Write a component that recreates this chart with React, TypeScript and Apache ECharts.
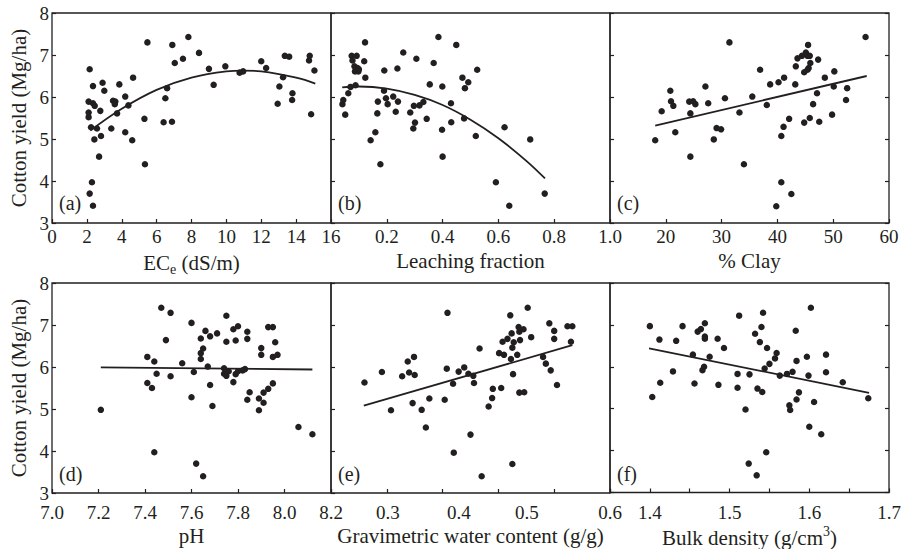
import React, { useEffect, useRef } from "react";
import * as echarts from "echarts";

const INK = "#231f20";
const FONT = "Liberation Serif";

// ---------- data ----------
const ecePoints = [
  [2.16, 6.66], [2.1, 5.89], [2.1, 5.63], [2.1, 5.52], [2.35, 6.26], [2.35, 5.85], [2.45, 5.79],
  [2.24, 5.28], [2.58, 5.25], [2.43, 4.99], [2.7, 4.58], [2.29, 3.97], [2.16, 3.7], [2.35, 3.41],
  [2.77, 5.67], [2.81, 5.07], [2.9, 6.34], [3.0, 6.15], [3.4, 5.25], [3.5, 5.91], [3.63, 5.89],
  [3.6, 5.83], [3.73, 5.61], [3.86, 6.3], [4.2, 6.01], [4.2, 5.16], [4.38, 5.8], [4.65, 6.46],
  [4.6, 4.97], [5.3, 5.48], [5.33, 4.4], [5.47, 7.3], [6.4, 5.4], [6.5, 5.97], [6.6, 6.21],
  [6.88, 5.41], [6.9, 7.24], [7.04, 6.81], [7.51, 6.91], [7.82, 7.43], [8.43, 7.05], [9.0, 6.67],
  [9.27, 6.29], [9.94, 6.73], [10.76, 6.58], [10.96, 6.61], [12.0, 6.85], [12.28, 6.69],
  [12.94, 5.84], [13.04, 6.25], [13.25, 6.47], [13.35, 6.98], [13.6, 6.96], [13.79, 6.09],
  [13.77, 5.93], [14.74, 6.87], [14.78, 6.98], [14.86, 5.59], [15.05, 6.63],
];
const eceFit = [[2.2, 5.2], [4, 5.72], [6, 6.17], [8, 6.46], [10, 6.61], [11, 6.63], [12, 6.61], [14, 6.46], [15.1, 6.32]];

const leachPoints = [
  [0.041, 5.83], [0.044, 5.93], [0.051, 5.58], [0.062, 6.09], [0.07, 6.24], [0.074, 6.98],
  [0.077, 6.87], [0.084, 6.73], [0.086, 6.61], [0.088, 6.28], [0.092, 6.98], [0.095, 6.69],
  [0.098, 6.61], [0.1, 6.66], [0.122, 7.3], [0.119, 6.85], [0.123, 6.46], [0.142, 4.97],
  [0.159, 5.16], [0.168, 5.89], [0.166, 5.61], [0.177, 4.4], [0.19, 6.15], [0.191, 6.63],
  [0.197, 5.97], [0.203, 5.83], [0.223, 6.01], [0.232, 5.65], [0.238, 6.68], [0.24, 5.89],
  [0.259, 7.06], [0.284, 5.63], [0.295, 5.25], [0.297, 5.79], [0.301, 5.39], [0.306, 6.91],
  [0.317, 5.8], [0.331, 5.88], [0.343, 5.48], [0.354, 6.3], [0.368, 6.81], [0.385, 7.43],
  [0.398, 5.22], [0.399, 6.25], [0.4, 4.58], [0.43, 5.85], [0.431, 5.4], [0.449, 7.24],
  [0.471, 6.46], [0.477, 5.49], [0.48, 6.21], [0.492, 6.35], [0.519, 5.07], [0.524, 6.65],
  [0.591, 3.97], [0.622, 5.28], [0.639, 3.41], [0.714, 4.99], [0.766, 3.7],
];
const leachFit = [[0.04, 6.23], [0.1, 6.25], [0.2, 6.2], [0.3, 6.05], [0.4, 5.81], [0.5, 5.46], [0.6, 5.02], [0.7, 4.48], [0.767, 4.06]];

const clayPoints = [
  [18.1, 4.97], [19.26, 5.66], [20.81, 6.15], [20.93, 5.9], [21.35, 5.79], [21.7, 5.16], [24.2, 5.89],
  [24.4, 5.61], [24.4, 4.58], [24.9, 5.9], [25.3, 5.83], [27.1, 6.25], [27.6, 5.85], [28.6, 4.99],
  [29.1, 5.26], [29.9, 5.23], [30.6, 5.97], [31.4, 7.3], [33.2, 5.63], [34.0, 4.4], [35.5, 6.01],
  [36.9, 6.65], [38.1, 5.81], [38.7, 6.3], [39.8, 3.4], [40.2, 6.35], [40.7, 5.07], [40.7, 3.97],
  [41.1, 5.29], [41.2, 6.46], [42.1, 5.48], [42.5, 3.69], [43.2, 6.3], [43.3, 6.73], [43.6, 6.92],
  [44.4, 6.98], [44.8, 5.39], [44.8, 6.59], [45.1, 7.06], [45.4, 6.98], [45.4, 6.65], [45.5, 7.24],
  [45.6, 6.69], [45.8, 6.98], [45.8, 5.5], [45.9, 6.81], [46.4, 5.83], [47.1, 6.09], [47.3, 6.89],
  [47.5, 5.41], [48.5, 6.46], [49.8, 5.58], [50.1, 6.25], [50.2, 6.61], [52.3, 5.93], [52.5, 6.21],
  [55.8, 7.43],
];
const clayFit = [[18.1, 5.32], [56.0, 6.5]];

const phPoints = [
  [7.21, 4.98], [7.41, 6.24], [7.41, 5.62], [7.43, 5.5], [7.44, 6.13], [7.44, 3.97], [7.45, 5.84],
  [7.47, 7.41], [7.49, 6.64], [7.51, 7.29], [7.51, 5.78], [7.56, 6.09], [7.6, 7.05], [7.6, 5.28],
  [7.61, 5.88], [7.62, 3.7], [7.65, 3.4], [7.64, 6.68], [7.64, 6.19], [7.64, 6.33], [7.65, 6.44],
  [7.66, 6.86], [7.67, 6.01], [7.68, 6.73], [7.68, 5.57], [7.69, 5.07], [7.71, 6.8], [7.74, 5.97],
  [7.74, 5.84], [7.75, 5.79], [7.75, 7.22], [7.75, 6.6], [7.76, 5.9], [7.78, 6.9], [7.78, 5.64],
  [7.79, 6.63], [7.79, 5.83], [7.8, 6.97], [7.8, 5.9], [7.82, 5.92], [7.83, 5.95], [7.84, 6.84],
  [7.84, 6.67], [7.84, 5.22], [7.85, 5.4], [7.89, 4.97], [7.89, 5.25], [7.9, 6.45], [7.9, 6.29],
  [7.91, 5.39], [7.91, 5.15], [7.93, 5.48], [7.93, 6.95], [7.95, 6.95], [7.95, 6.24], [7.95, 5.61],
  [7.96, 6.59], [7.97, 6.29], [8.06, 4.57], [8.12, 4.4],
];
const phFit = [[7.21, 5.99], [8.12, 5.94]];

const waterPoints = [
  [0.248, 5.63], [0.273, 5.88], [0.286, 4.97], [0.302, 5.78], [0.31, 6.13], [0.312, 5.87],
  [0.317, 5.14], [0.319, 6.24], [0.32, 5.81], [0.33, 4.98], [0.336, 4.56], [0.341, 5.25],
  [0.363, 5.22], [0.366, 5.96], [0.367, 7.29], [0.375, 5.6], [0.376, 3.96], [0.383, 5.89],
  [0.391, 5.99], [0.397, 5.84], [0.4, 4.39], [0.404, 5.79], [0.405, 5.62], [0.413, 6.44],
  [0.416, 3.4], [0.426, 5.06], [0.431, 5.26], [0.432, 5.48], [0.441, 6.33], [0.444, 5.5],
  [0.446, 6.6], [0.448, 6.29], [0.453, 6.67], [0.457, 7.23], [0.458, 6.19], [0.459, 6.8],
  [0.46, 6.46], [0.461, 5.83], [0.46, 3.69], [0.462, 6.59], [0.467, 6.29], [0.469, 6.95],
  [0.47, 6.84], [0.47, 5.39], [0.471, 6.64], [0.476, 6.9], [0.477, 5.4], [0.482, 7.41],
  [0.487, 6.71], [0.504, 6.24], [0.508, 6.08], [0.513, 7.04], [0.515, 5.92], [0.52, 6.86],
  [0.52, 6.67], [0.524, 5.57], [0.539, 6.97], [0.544, 6.6], [0.546, 6.97],
];
const waterFit = [[0.247, 5.08], [0.546, 6.52]];

const densityPoints = [
  [1.4, 6.97], [1.403, 5.28], [1.412, 6.65], [1.413, 5.62], [1.429, 5.89], [1.433, 6.62],
  [1.441, 6.97], [1.454, 6.29], [1.456, 5.6], [1.46, 6.84], [1.464, 6.9], [1.466, 5.92],
  [1.468, 6.0], [1.469, 7.04], [1.469, 6.72], [1.469, 6.67], [1.475, 6.24], [1.485, 6.67],
  [1.486, 5.57], [1.493, 6.45], [1.51, 5.83], [1.51, 5.5], [1.512, 7.22], [1.52, 4.98],
  [1.524, 3.69], [1.525, 5.82], [1.532, 6.79], [1.534, 3.41], [1.535, 5.48], [1.538, 6.59],
  [1.54, 6.95], [1.541, 5.4], [1.542, 7.29], [1.544, 5.96], [1.547, 6.45], [1.546, 3.96],
  [1.55, 6.07], [1.557, 6.2], [1.559, 6.33], [1.563, 5.79], [1.572, 5.83], [1.575, 5.08],
  [1.576, 4.97], [1.579, 5.88], [1.583, 6.86], [1.584, 5.22], [1.584, 6.14], [1.587, 5.39],
  [1.597, 6.24], [1.599, 5.79], [1.6, 4.57], [1.602, 7.41], [1.606, 5.16], [1.615, 4.39],
  [1.621, 6.29], [1.621, 5.87], [1.642, 5.63], [1.674, 5.25],
];
const densityFit = [[1.399, 6.44], [1.675, 5.38]];

const panelLabels = ["(a)", "(b)", "(c)", "(d)", "(e)", "(f)"];
const waterTickValues = [0.2, 0.28, 0.36, 0.44, 0.52, 0.6];
const waterLabelValues = [0.2817, 0.3835, 0.481, 0.6];
const waterLabelTexts = ["0.3", "0.4", "0.5", "0.6"];
const densityTickValues = [1.35, 1.4, 1.45, 1.5, 1.55, 1.6, 1.65, 1.7];
const densityLabelValues = [1.4, 1.5, 1.6, 1.7];

// ---------- layout ----------
const COLS = [52, 331, 610];
const ROWS = [13, 283];
const PW = 279;
const PH = 210;

const App: React.FC = () => {
  const ref = useRef<HTMLDivElement>(null);

  useEffect(() => {
    if (!ref.current) return;
    const chart = echarts.init(ref.current, null, { renderer: "svg" });

    const grids = [0, 1, 2, 3, 4, 5].map((i) => ({
      left: COLS[i % 3],
      top: ROWS[Math.floor(i / 3)],
      width: PW,
      height: PH,
      show: true,
      borderColor: INK,
      borderWidth: 1.3,
      backgroundColor: "transparent",
      containLabel: false,
    }));

    const tick = { inside: true, length: 4, lineStyle: { color: INK, width: 1.2 } };
    const labelStyle = (row: number) => ({
      color: INK,
      fontFamily: FONT,
      fontSize: 19,
      margin: row === 0 ? 4 : 10,
    });
    const nameStyle = {
      color: INK,
      fontFamily: FONT,
      fontSize: 21,
      rich: {
        n: { fontSize: 21, fontFamily: FONT, color: INK, lineHeight: 26 },
        s: { fontSize: 14, fontFamily: FONT, color: INK, lineHeight: 12, verticalAlign: "bottom" },
        u: { fontSize: 14, fontFamily: FONT, color: INK, lineHeight: 12, verticalAlign: "top" },
      },
    };

    const xBase = (gi: number) => ({
      type: "value",
      gridIndex: gi,
      splitLine: { show: false },
      axisLine: { show: false },
      axisTick: tick,
      nameLocation: "middle",
      nameGap: gi < 3 ? 27 : 32,
      nameTextStyle: nameStyle,
    });

    const fmt1 = (v: number) => v.toFixed(1);

    const xAxes: any[] = [
      {
        ...xBase(0), min: 0, max: 16, interval: 2,
        name: "{n|EC}{s|e}{n| (dS/m)}",
        axisLabel: { ...labelStyle(0), showMinLabel: true, showMaxLabel: true },
      },
      {
        ...xBase(1), min: 0, max: 1, interval: 0.2,
        name: "Leaching fraction",
        axisLabel: { ...labelStyle(0), showMinLabel: false, showMaxLabel: true, formatter: fmt1 },
      },
      {
        ...xBase(2), min: 10, max: 60, interval: 10,
        name: "% Clay",
        axisLabel: { ...labelStyle(0), showMinLabel: false, showMaxLabel: true },
      },
      {
        ...xBase(3), min: 7, max: 8.2, interval: 0.2,
        name: "pH",
        axisLabel: { ...labelStyle(1), showMinLabel: true, showMaxLabel: true, formatter: fmt1 },
      },
      {
        ...xBase(4), min: 0.2, max: 0.6,
        name: "Gravimetric water content (g/g)",
        axisTick: { ...tick, customValues: waterTickValues },
        axisLabel: {
          ...labelStyle(1),
          customValues: waterLabelValues,
          formatter: (v: number) => {
            let best = 0;
            waterLabelValues.forEach((p, i) => {
              if (Math.abs(p - v) < Math.abs(waterLabelValues[best] - v)) best = i;
            });
            return waterLabelTexts[best];
          },
        },
      },
      {
        ...xBase(5), min: 1.35, max: 1.7,
        name: "{n|Bulk density (g/cm}{u|3}{n|)}",
        axisTick: { ...tick, customValues: densityTickValues },
        axisLabel: { ...labelStyle(1), customValues: densityLabelValues, formatter: fmt1 },
      },
    ];

    const yAxes: any[] = [0, 1, 2, 3, 4, 5].map((gi) => ({
      type: "value",
      gridIndex: gi,
      min: 3,
      max: 8,
      interval: 1,
      splitLine: { show: false },
      axisLine: { show: false },
      axisTick: tick,
      axisLabel: { show: gi % 3 === 0, color: INK, fontFamily: FONT, fontSize: 19, margin: 3 },
      name: gi % 3 === 0 ? "Cotton yield (Mg/ha)" : "",
      nameLocation: "middle",
      nameRotate: 90,
      nameGap: 23,
      nameTextStyle: { color: INK, fontFamily: FONT, fontSize: 21 },
    }));
    [2, 5].forEach((gi) => {
      yAxes.push({
        type: "value",
        gridIndex: gi,
        position: "right",
        min: 3,
        max: 8,
        interval: 1,
        splitLine: { show: false },
        axisLine: { show: false },
        axisTick: tick,
        axisLabel: { show: false },
      });
    });

    const pointSets = [ecePoints, leachPoints, clayPoints, phPoints, waterPoints, densityPoints];
    const fitSets = [eceFit, leachFit, clayFit, phFit, waterFit, densityFit];

    const series: any[] = [];
    pointSets.forEach((pts, gi) => {
      series.push({
        type: "scatter",
        xAxisIndex: gi,
        yAxisIndex: gi,
        data: pts,
        symbolSize: 6.5,
        itemStyle: { color: INK, opacity: 1 },
        z: 3,
      });
      series.push({
        type: "line",
        xAxisIndex: gi,
        yAxisIndex: gi,
        data: fitSets[gi],
        smooth: fitSets[gi].length > 2 ? 0.4 : false,
        showSymbol: false,
        symbol: "none",
        lineStyle: { color: INK, width: 1.8 },
        z: 2,
      });
    });

    const graphics = panelLabels.map((t, i) => ({
      type: "text",
      x: COLS[i % 3] + 7,
      y: i < 3 ? 203 : 474,
      style: {
        text: t,
        font: `20px "${FONT}"`,
        fill: INK,
        textVerticalAlign: "middle",
        verticalAlign: "middle",
      },
    }));

    chart.setOption({
      animation: false,
      backgroundColor: "#ffffff",
      textStyle: { fontFamily: FONT, color: INK },
      grid: grids,
      xAxis: xAxes,
      yAxis: yAxes,
      series,
      graphic: graphics,
    });

    return () => chart.dispose();
  }, []);

  return (
    <div
      ref={ref}
      style={{ position: "fixed", left: 0, top: 0, width: 905, height: 549 }}
    />
  );
};

export default App;
